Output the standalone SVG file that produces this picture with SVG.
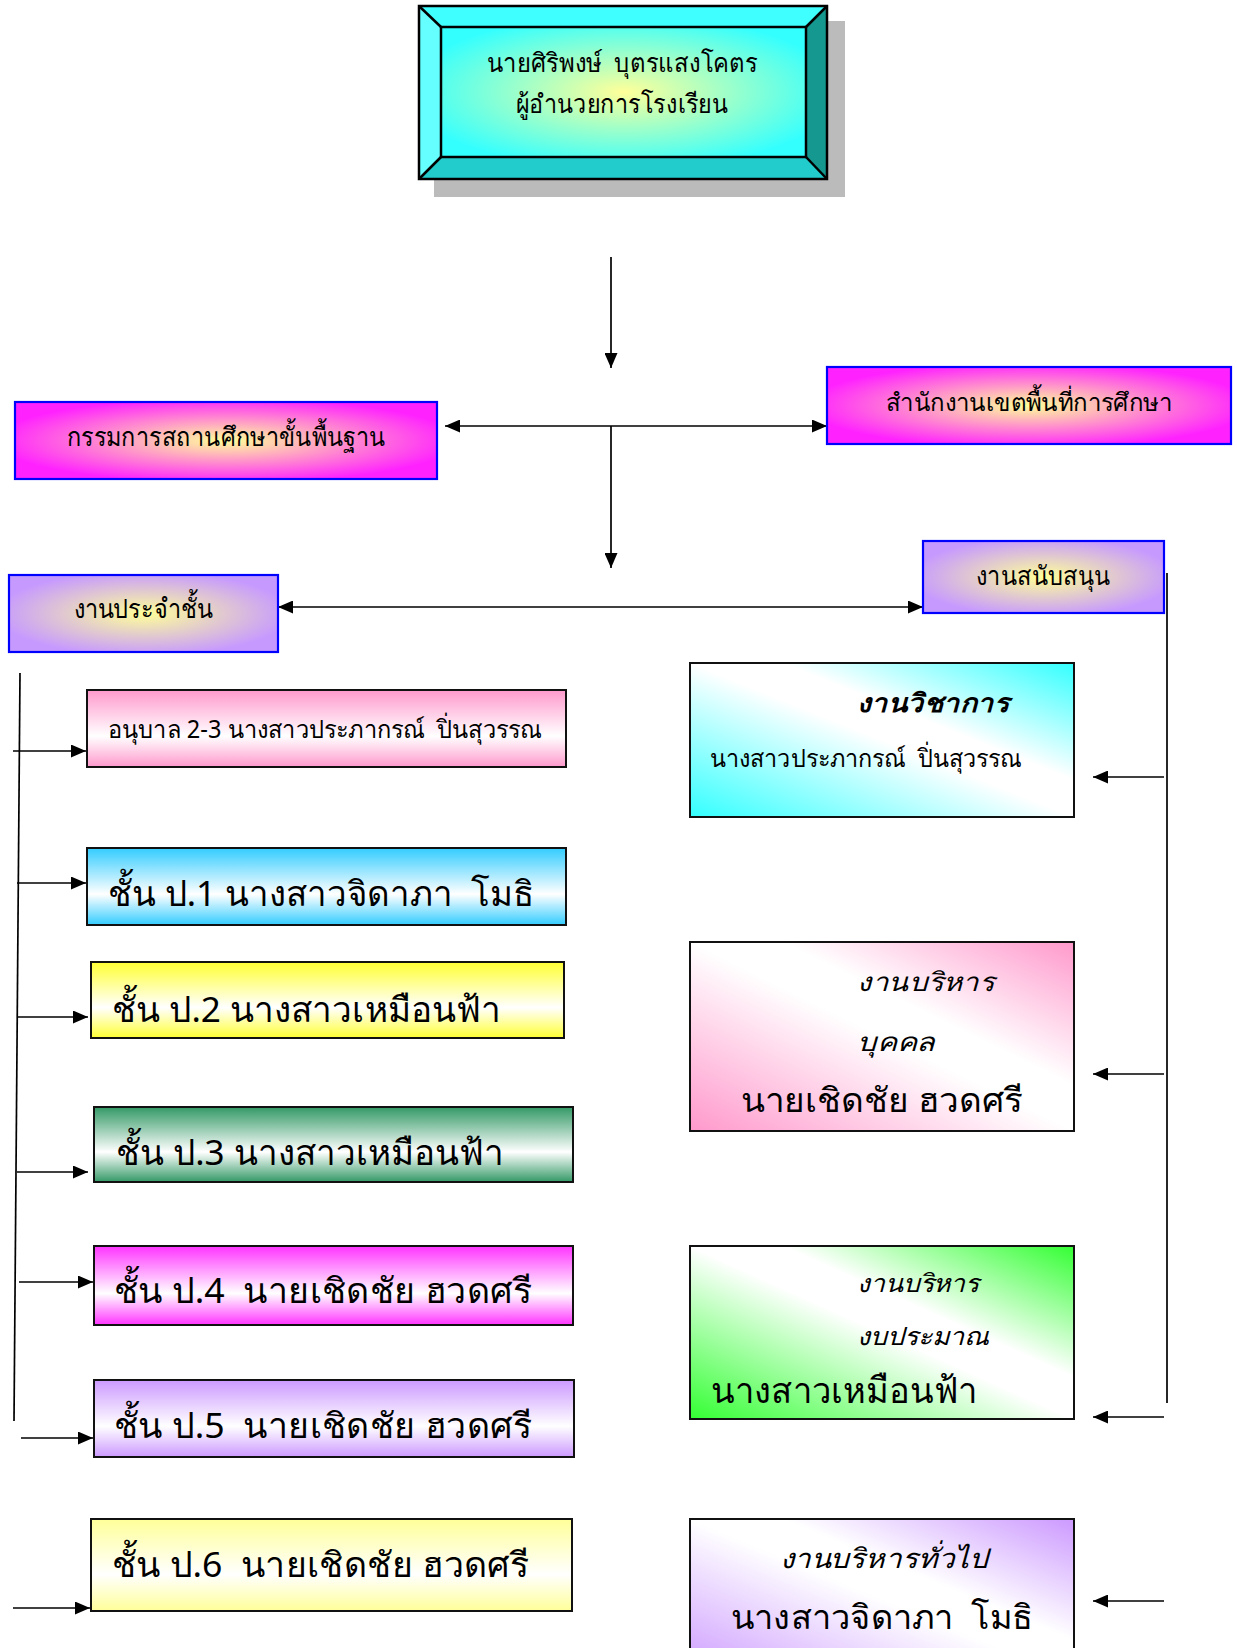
<svg xmlns="http://www.w3.org/2000/svg" width="1237" height="1648" viewBox="0 0 1237 1648">
<defs>
<style>
text{font-family:"Noto Sans","DejaVu Sans",sans-serif;fill:#000;white-space:pre}
.ln{stroke:#000;stroke-width:1.7;fill:none}
.bb{stroke:#0000ff;stroke-width:2.2}
.kb{stroke:#111;stroke-width:2}
.it{font-style:italic}
</style>
<marker id="ah" viewBox="0 0 15 13" refX="15" refY="6.5" markerWidth="15" markerHeight="13" markerUnits="userSpaceOnUse" orient="auto-start-reverse">
<path d="M0,0 L15,6.5 L0,13 z" fill="#000"/>
</marker>
<radialGradient id="gTop" cx="0.5" cy="0.5" r="0.6">
<stop offset="0" stop-color="#ffff99"/><stop offset="1" stop-color="#33ffff"/>
</radialGradient>
<radialGradient id="gMag" cx="0.5" cy="0.5" r="0.55">
<stop offset="0" stop-color="#ffff99"/><stop offset="1" stop-color="#ff22ff"/>
</radialGradient>
<radialGradient id="gLav" cx="0.5" cy="0.5" r="0.55">
<stop offset="0" stop-color="#ffff99"/><stop offset="1" stop-color="#c699ff"/>
</radialGradient>
<linearGradient id="dCyan" x1="0" y1="1" x2="1" y2="0">
<stop offset="0" stop-color="#33ffff"/><stop offset="0.5" stop-color="#ffffff"/><stop offset="0.62" stop-color="#ffffff"/><stop offset="1" stop-color="#33ffff"/>
</linearGradient>
<linearGradient id="dPink" x1="0" y1="1" x2="1" y2="0">
<stop offset="0" stop-color="#ff99cc"/><stop offset="0.5" stop-color="#ffffff"/><stop offset="0.62" stop-color="#ffffff"/><stop offset="1" stop-color="#ff99cc"/>
</linearGradient>
<linearGradient id="dGreen" x1="0" y1="1" x2="1" y2="0">
<stop offset="0" stop-color="#33ff33"/><stop offset="0.5" stop-color="#ffffff"/><stop offset="0.62" stop-color="#ffffff"/><stop offset="1" stop-color="#33ff33"/>
</linearGradient>
<linearGradient id="dLav" x1="0" y1="1" x2="1" y2="0">
<stop offset="0" stop-color="#cc99ff"/><stop offset="0.5" stop-color="#ffffff"/><stop offset="0.62" stop-color="#ffffff"/><stop offset="1" stop-color="#cc99ff"/>
</linearGradient>
<linearGradient id="vPink" x1="0" y1="0" x2="0" y2="1">
<stop offset="0" stop-color="#ff99cc"/><stop offset="0.6" stop-color="#ffffff"/><stop offset="1" stop-color="#ff99cc"/>
</linearGradient>
<linearGradient id="vBlue" x1="0" y1="0" x2="0" y2="1">
<stop offset="0" stop-color="#33ccff"/><stop offset="0.6" stop-color="#ffffff"/><stop offset="1" stop-color="#33ccff"/>
</linearGradient>
<linearGradient id="vYel" x1="0" y1="0" x2="0" y2="1">
<stop offset="0" stop-color="#ffff33"/><stop offset="0.6" stop-color="#ffffff"/><stop offset="1" stop-color="#ffff33"/>
</linearGradient>
<linearGradient id="vDGreen" x1="0" y1="0" x2="0" y2="1">
<stop offset="0" stop-color="#339966"/><stop offset="0.6" stop-color="#ffffff"/><stop offset="1" stop-color="#339966"/>
</linearGradient>
<linearGradient id="vMag" x1="0" y1="0" x2="0" y2="1">
<stop offset="0" stop-color="#ff33ff"/><stop offset="0.6" stop-color="#ffffff"/><stop offset="1" stop-color="#ff33ff"/>
</linearGradient>
<linearGradient id="vLav" x1="0" y1="0" x2="0" y2="1">
<stop offset="0" stop-color="#cc99ff"/><stop offset="0.6" stop-color="#ffffff"/><stop offset="1" stop-color="#cc99ff"/>
</linearGradient>
<linearGradient id="vLYel" x1="0" y1="0" x2="0" y2="1">
<stop offset="0" stop-color="#ffff99"/><stop offset="0.6" stop-color="#ffffff"/><stop offset="1" stop-color="#ffff99"/>
</linearGradient>
</defs>
<rect width="1237" height="1648" fill="#fff"/>

<g id="connectors">
<line class="ln" x1="611" y1="257" x2="611" y2="368" marker-end="url(#ah)"/>
<line class="ln" x1="445" y1="426" x2="827" y2="426" marker-start="url(#ah)" marker-end="url(#ah)"/>
<line class="ln" x1="611" y1="426" x2="611" y2="568" marker-end="url(#ah)"/>
<line class="ln" x1="278" y1="607" x2="923" y2="607" marker-start="url(#ah)" marker-end="url(#ah)"/>
<line class="ln" x1="1167" y1="573" x2="1167" y2="1403"/>
<line class="ln" x1="1164" y1="777" x2="1093" y2="777" marker-end="url(#ah)"/>
<line class="ln" x1="1164" y1="1074" x2="1093" y2="1074" marker-end="url(#ah)"/>
<line class="ln" x1="1164" y1="1417" x2="1093" y2="1417" marker-end="url(#ah)"/>
<line class="ln" x1="1164" y1="1601" x2="1093" y2="1601" marker-end="url(#ah)"/>
<line class="ln" x1="20" y1="673" x2="14" y2="1421"/>
<line class="ln" x1="13" y1="751" x2="86" y2="751" marker-end="url(#ah)"/>
<line class="ln" x1="17" y1="883" x2="86" y2="883" marker-end="url(#ah)"/>
<line class="ln" x1="17" y1="1017" x2="88" y2="1017" marker-end="url(#ah)"/>
<line class="ln" x1="17" y1="1172" x2="88" y2="1172" marker-end="url(#ah)"/>
<line class="ln" x1="19" y1="1282" x2="93" y2="1282" marker-end="url(#ah)"/>
<line class="ln" x1="21" y1="1438" x2="93" y2="1438" marker-end="url(#ah)"/>
<line class="ln" x1="13" y1="1608" x2="90" y2="1608" marker-end="url(#ah)"/>
</g>

<g id="director">
<rect x="434" y="21" width="411" height="176" fill="#bbbbbb"/>
<rect x="441" y="27" width="365" height="130" fill="url(#gTop)"/>
<polygon points="419,6 827,6 806,27 441,27" fill="#40ffff"/>
<polygon points="419,6 441,27 441,157 419,179" fill="#66ffff"/>
<polygon points="827,6 827,179 806,157 806,27" fill="#14988f"/>
<polygon points="419,179 441,157 806,157 827,179" fill="#22cccc"/>
<g stroke="#000" stroke-width="2.5" fill="none">
<rect x="419" y="6" width="408" height="173"/>
<rect x="441" y="27" width="365" height="130"/>
<line x1="419" y1="6" x2="441" y2="27"/><line x1="827" y1="6" x2="806" y2="27"/>
<line x1="419" y1="179" x2="441" y2="157"/><line x1="827" y1="179" x2="806" y2="157"/>
</g>
<text x="622" y="72" font-size="26" font-weight="500" text-anchor="middle" textLength="271" lengthAdjust="spacingAndGlyphs">นายศิริพงษ์  บุตรแสงโคตร</text>
<text x="622" y="113" font-size="26" font-weight="500" text-anchor="middle" textLength="212" lengthAdjust="spacingAndGlyphs">ผู้อำนวยการโรงเรียน</text>
</g>

<g id="board">
<rect class="bb" x="15" y="402" width="422" height="77" fill="url(#gMag)"/>
<text x="226" y="446" font-size="26" text-anchor="middle" textLength="319" lengthAdjust="spacingAndGlyphs">กรรมการสถานศึกษาขั้นพื้นฐาน</text>
</g>
<g id="office">
<rect class="bb" x="827" y="367" width="404" height="77" fill="url(#gMag)"/>
<text x="1029" y="411" font-size="25" text-anchor="middle" textLength="286" lengthAdjust="spacingAndGlyphs">สำนักงานเขตพื้นที่การศึกษา</text>
</g>
<g id="classwork">
<rect class="bb" x="9" y="575" width="269" height="77" fill="url(#gLav)"/>
<text x="143" y="618" font-size="27" text-anchor="middle" textLength="139" lengthAdjust="spacingAndGlyphs">งานประจำชั้น</text>
</g>
<g id="support">
<rect class="bb" x="923" y="541" width="241" height="72" fill="url(#gLav)"/>
<text x="1043" y="585" font-size="26" text-anchor="middle" textLength="135" lengthAdjust="spacingAndGlyphs">งานสนับสนุน</text>
</g>

<g id="academic">
<rect class="kb" x="690" y="663" width="384" height="154" fill="url(#dCyan)"/>
<text class="it" x="857" y="712" font-size="26" font-weight="bold" textLength="152" lengthAdjust="spacingAndGlyphs">งานวิชาการ</text>
<text x="710" y="767" font-size="25" textLength="312" lengthAdjust="spacingAndGlyphs">นางสาวประภากรณ์  ปิ่นสุวรรณ</text>
</g>
<g id="personnel">
<rect class="kb" x="690" y="942" width="384" height="189" fill="url(#dPink)"/>
<text class="it" x="857" y="991" font-size="26" textLength="138" lengthAdjust="spacingAndGlyphs">งานบริหาร</text>
<text class="it" x="857" y="1051" font-size="26" textLength="78" lengthAdjust="spacingAndGlyphs">บุคคล</text>
<text x="741" y="1112" font-size="34" textLength="282" lengthAdjust="spacingAndGlyphs">นายเชิดชัย ฮวดศรี</text>
</g>
<g id="budget">
<rect class="kb" x="690" y="1246" width="384" height="173" fill="url(#dGreen)"/>
<text class="it" x="857" y="1292" font-size="25" textLength="122" lengthAdjust="spacingAndGlyphs">งานบริหาร</text>
<text class="it" x="857" y="1345" font-size="25" textLength="132" lengthAdjust="spacingAndGlyphs">งบประมาณ</text>
<text x="711" y="1403" font-size="36" textLength="266" lengthAdjust="spacingAndGlyphs">นางสาวเหมือนฟ้า</text>
</g>
<g id="general">
<rect class="kb" x="690" y="1519" width="384" height="160" fill="url(#dLav)"/>
<text class="it" x="780" y="1568" font-size="27" textLength="208" lengthAdjust="spacingAndGlyphs">งานบริหารทั่วไป</text>
<text x="731" y="1629" font-size="34" textLength="302" lengthAdjust="spacingAndGlyphs">นางสาวจิดาภา  โมธิ</text>
</g>

<g id="kg">
<rect class="kb" x="87" y="690" width="479" height="77" fill="url(#vPink)"/>
<text x="108" y="738" font-size="25" textLength="434" lengthAdjust="spacingAndGlyphs">อนุบาล 2-3 นางสาวประภากรณ์  ปิ่นสุวรรณ</text>
</g>
<g id="p1">
<rect class="kb" x="87" y="848" width="479" height="77" fill="url(#vBlue)"/>
<text x="108" y="906" font-size="35" textLength="426" lengthAdjust="spacingAndGlyphs">ชั้น ป.1 นางสาวจิดาภา  โมธิ</text>
</g>
<g id="p2">
<rect class="kb" x="91" y="962" width="473" height="76" fill="url(#vYel)"/>
<text x="112" y="1022" font-size="35" textLength="389" lengthAdjust="spacingAndGlyphs">ชั้น ป.2 นางสาวเหมือนฟ้า</text>
</g>
<g id="p3">
<rect class="kb" x="94" y="1107" width="479" height="75" fill="url(#vDGreen)"/>
<text x="116" y="1165" font-size="35" textLength="388" lengthAdjust="spacingAndGlyphs">ชั้น ป.3 นางสาวเหมือนฟ้า</text>
</g>
<g id="p4">
<rect class="kb" x="94" y="1246" width="479" height="79" fill="url(#vMag)"/>
<text x="114" y="1303" font-size="35" textLength="418" lengthAdjust="spacingAndGlyphs">ชั้น ป.4  นายเชิดชัย ฮวดศรี</text>
</g>
<g id="p5">
<rect class="kb" x="94" y="1380" width="480" height="77" fill="url(#vLav)"/>
<text x="114" y="1438" font-size="35" textLength="418" lengthAdjust="spacingAndGlyphs">ชั้น ป.5  นายเชิดชัย ฮวดศรี</text>
</g>
<g id="p6">
<rect class="kb" x="91" y="1519" width="481" height="92" fill="url(#vLYel)"/>
<text x="112" y="1577" font-size="35" textLength="417" lengthAdjust="spacingAndGlyphs">ชั้น ป.6  นายเชิดชัย ฮวดศรี</text>
</g>
</svg>
